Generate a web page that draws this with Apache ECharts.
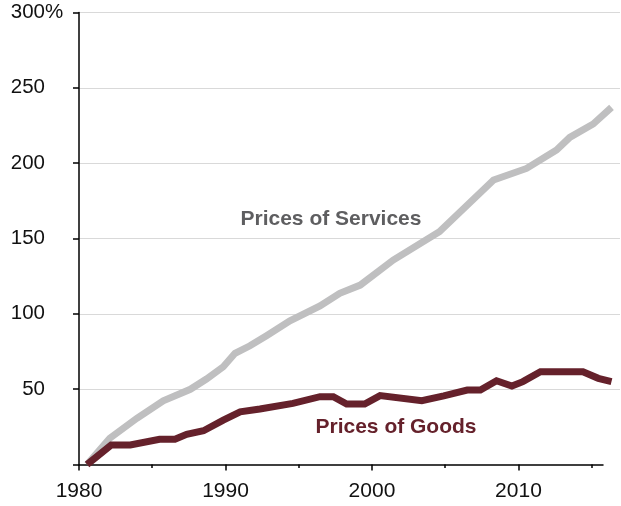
<!DOCTYPE html>
<html>
<head>
<meta charset="utf-8">
<script src="https://cdn.jsdelivr.net/npm/echarts@6/dist/echarts.min.js"></script>
<style>
html,body{margin:0;padding:0;background:#fff;}
#chart{width:621px;height:506px;}
</style>
</head>
<body>
<div id="chart"></div>
<script>
// ---- data ----
var servicesYears  = [1980.55, 1982.1, 1983.95, 1985.75, 1987.6, 1988.7, 1989.85, 1990.65, 1991.67, 1992.8, 1994.4, 1996.45, 1997.8, 1999.2, 2001.45, 2004.6, 2008.3, 2010.55, 2012.6, 2013.5, 2015.1, 2016.35];
var servicesValues = [0, 17.4, 30.7, 42.3, 49.9, 56.7, 64.9, 73.8, 78.8, 85.5, 95.4, 105.2, 113.6, 119.1, 135.7, 154.5, 188.8, 196.5, 208.7, 217.1, 226, 237];

var goodsYears  = [1980.55, 1982.2, 1983.5, 1985.5, 1986.55, 1987.35, 1988.5, 1989.85, 1991.0, 1992.35, 1994.6, 1996.45, 1997.36, 1998.27, 1999.5, 2000.55, 2003.4, 2004.9, 2006.5, 2007.4, 2008.5, 2009.55, 2010.3, 2011.5, 2014.4, 2015.45, 2016.35];
var goodsValues = [0, 13, 13, 16.7, 16.7, 20, 22.4, 29.5, 35, 36.8, 40.6, 45, 45, 40.1, 40.1, 45.7, 42.3, 45.5, 49.4, 49.4, 55.6, 52.1, 55, 61.6, 61.6, 57.2, 55];

var xMajorTicks = [1980, 1990, 2000, 2010];
var xMinorTicks = [1985, 1995, 2005, 2015];
var yLabelValues = [50, 100, 150, 200, 250, 300];

var servicesLabel = {text: 'Prices of Services', year: 1997.2, value: 162.9};
var goodsLabel = {text: 'Prices of Goods', year: 2001.64, value: 24.9};

function pairs(xs, ys){ return xs.map(function(x,i){ return [x, ys[i]]; }); }

var FONT = "'Liberation Sans', Arial, Helvetica, sans-serif";
var chart = echarts.init(document.getElementById('chart'), null, {renderer:'canvas'});

var option = {
  animation: false,
  backgroundColor: '#ffffff',
  textStyle: {fontFamily: FONT},
  grid: [
    {left: 79, right: 1, top: 12.5, bottom: 41.5, containLabel: false},
    {left: 79, right: 18, top: 12.5, bottom: 41.5, containLabel: false}
  ],
  xAxis: [
    {gridIndex: 0, type: 'value', min: 1980, max: 2016.93, show: false},
    {gridIndex: 1, type: 'value', min: 1980, max: 2015.77, position: 'bottom',
      axisLine: {show: true, lineStyle: {color: '#000', width: 1.5}},
      axisTick: {show: true, length: 6, inside: false, customValues: xMajorTicks, lineStyle: {color: '#000', width: 1.5}},
      axisLabel: {show: true, customValues: xMajorTicks, margin: 16, color: '#111', fontSize: 21, fontFamily: FONT,
        formatter: function(v){ return String(v); }},
      splitLine: {show: false}
    },
    {gridIndex: 1, type: 'value', min: 1980, max: 2015.77, position: 'bottom',
      axisLine: {show: false},
      axisTick: {show: true, length: 3.5, inside: false, customValues: xMinorTicks, lineStyle: {color: '#000', width: 1.5}},
      axisLabel: {show: false},
      splitLine: {show: false}
    }
  ],
  yAxis: [
    {gridIndex: 0, type: 'value', min: 0, max: 300, interval: 50,
      axisLine: {show: true, lineStyle: {color: '#000', width: 1.5}},
      axisTick: {show: true, length: 6, inside: false, lineStyle: {color: '#000', width: 1.5}},
      axisLabel: {
        show: true, customValues: yLabelValues, margin: 16, color: '#111', fontSize: 20.5, fontFamily: FONT, align: 'right',
        formatter: function(v){ return '{n|' + v + '}{p|' + (v === 300 ? '%' : ' ') + '}'; },
        rich: {
          n: {fontSize: 20.5, fontFamily: FONT, color: '#111'},
          p: {width: 18, fontSize: 20.5, fontFamily: FONT, color: '#111', align: 'left'}
        }
      },
      splitLine: {show: true, lineStyle: {color: ['rgba(0,0,0,0)', '#d9d9d9', '#d9d9d9', '#d9d9d9', '#d9d9d9', '#d9d9d9', '#d9d9d9'], width: 1.2}}
    },
    {gridIndex: 1, type: 'value', min: 0, max: 300, show: false}
  ],
  series: [
    {
      name: 'Prices of Services', type: 'line', xAxisIndex: 0, yAxisIndex: 0,
      data: pairs(servicesYears, servicesValues),
      showSymbol: false, symbol: 'none', smooth: false,
      lineStyle: {color: '#bfbfc0', width: 7, cap: 'butt', join: 'miter'},
      markPoint: {
        symbol: 'circle', symbolSize: 0, silent: true,
        data: [{coord: [servicesLabel.year, servicesLabel.value], value: servicesLabel.text}],
        label: {show: true, position: 'inside', formatter: servicesLabel.text, color: '#5e5e60', fontSize: 21, fontWeight: 'bold', fontFamily: FONT}
      },
      z: 2
    },
    {
      name: 'Prices of Goods', type: 'line', xAxisIndex: 0, yAxisIndex: 0,
      data: pairs(goodsYears, goodsValues),
      showSymbol: false, symbol: 'none', smooth: false,
      lineStyle: {color: '#65212b', width: 7, cap: 'butt', join: 'miter'},
      markPoint: {
        symbol: 'circle', symbolSize: 0, silent: true,
        data: [{coord: [goodsLabel.year, goodsLabel.value], value: goodsLabel.text}],
        label: {show: true, position: 'inside', formatter: goodsLabel.text, color: '#65212b', fontSize: 21, fontWeight: 'bold', fontFamily: FONT}
      },
      z: 3
    }
  ]
};
chart.setOption(option);
</script>
</body>
</html>
